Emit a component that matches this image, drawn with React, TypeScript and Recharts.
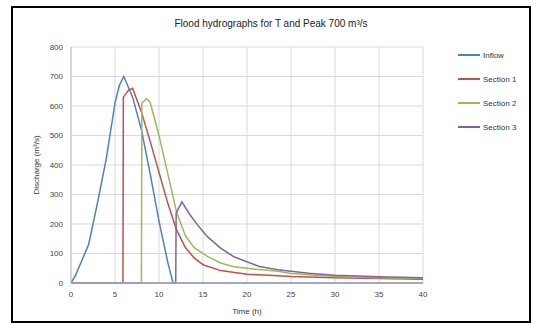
import React from 'react';
import { LineChart, Line, XAxis, YAxis, CartesianGrid, Legend } from 'recharts';

// Values (time in h, discharge in m³/s)
const xTicks = [0, 5, 10, 15, 20, 25, 30, 35, 40];
const yTicks = [0, 100, 200, 300, 400, 500, 600, 700, 800];

const inflowT = [0, 0.5, 1, 2, 3, 4, 5, 5.5, 6, 7, 8, 9, 10, 11, 11.6, 20, 30, 40];
const inflowQ = [0, 25, 60, 130, 270, 420, 610, 670, 700, 630, 520, 370, 210, 70, 0, 0, 0, 0];

const sec1T = [0, 5.9, 5.95, 6.5, 7, 8, 9, 10, 11, 12, 13, 14, 15, 17, 20, 25, 30, 35, 40];
const sec1Q = [0, 0, 630, 652, 660, 580, 480, 375, 270, 180, 120, 85, 62, 42, 30, 22, 18, 15, 13];

const sec2T = [0, 8, 8.05, 8.6, 9, 10, 11, 12, 13, 14, 15.5, 17, 18.5, 21, 23.5, 25, 30, 35, 40];
const sec2Q = [0, 0, 610, 625, 612, 500, 370, 240, 160, 120, 90, 68, 55, 47, 40, 32, 22, 18, 15];

const sec3T = [0, 11.9, 11.95, 12.6, 13.5, 14.5, 15.5, 17, 18.5, 21.4, 23.5, 27, 30, 35, 40];
const sec3Q = [0, 0, 237, 275, 232, 192, 157, 118, 89, 56, 45, 33, 26, 21, 18];

const series = [
  { name: 'Inflow', color: '#4F81BD', t: inflowT, q: inflowQ },
  { name: 'Section 1', color: '#C0504D', t: sec1T, q: sec1Q },
  { name: 'Section 2', color: '#9BBB59', t: sec2T, q: sec2Q },
  { name: 'Section 3', color: '#8064A2', t: sec3T, q: sec3Q },
];

const toPoints = (t: number[], q: number[]) => t.map((x, i) => ({ t: x, q: q[i] }));

const font = '"Liberation Sans", Arial, sans-serif';

const LegendBox = () => (
  <div style={{ fontFamily: font, fontSize: 8, color: '#333' }}>
    {series.map((s) => (
      <div key={s.name} style={{ display: 'flex', alignItems: 'center', justifyContent: 'flex-end', height: 24 }}>
        <span style={{ display: 'inline-block', width: 22, height: 2, background: s.color, marginRight: 3 }} />
        <span style={{ width: 40 }}>{s.name}</span>
      </div>
    ))}
  </div>
);

export default function App() {
  return (
    <div
      style={{
        position: 'fixed',
        left: 11,
        top: 6,
        width: 520,
        height: 317,
        border: '2px solid #000',
        boxSizing: 'border-box',
        background: '#fff',
      }}
    >
      <div
        style={{
          position: 'absolute',
          top: 10,
          left: 0,
          width: '100%',
          textAlign: 'center',
          fontFamily: font,
          fontSize: 10,
          color: '#222',
        }}
      >
        Flood hydrographs for T and Peak 700 m³/s
      </div>
      <LineChart width={516} height={313} margin={{ top: 39, right: 6, bottom: 14, left: 18 }}>
        <CartesianGrid stroke="#d9d9d9" />
        <XAxis
          type="number"
          dataKey="t"
          domain={[0, 40]}
          ticks={xTicks}
          allowDuplicatedCategory={false}
          tick={{ fontSize: 8, fill: '#444', fontFamily: font }}
          tickLine={false}
          axisLine={{ stroke: '#bfbfbf' }}
          height={24}
          label={{ value: 'Time (h)', position: 'insideBottom', offset: -7, fontSize: 8, fill: '#333', fontFamily: font }}
        />
        <YAxis
          type="number"
          domain={[0, 800]}
          ticks={yTicks}
          tick={{ fontSize: 8, fill: '#444', fontFamily: font }}
          tickLine={false}
          axisLine={{ stroke: '#bfbfbf' }}
          width={40}
          label={{
            value: 'Discharge (m³/s)',
            angle: -90,
            position: 'insideLeft',
            offset: 5,
            fontSize: 8,
            fill: '#333',
            fontFamily: font,
            style: { textAnchor: 'middle' },
          }}
        />
        <Legend
          layout="vertical"
          verticalAlign="top"
          align="right"
          content={() => <LegendBox />}
          wrapperStyle={{ top: 35, right: 6, width: 100 }}
        />
        {series.map((s) => (
          <Line
            key={s.name}
            name={s.name}
            data={toPoints(s.t, s.q)}
            dataKey="q"
            type="linear"
            stroke={s.color}
            strokeWidth={1.5}
            dot={false}
            isAnimationActive={false}
          />
        ))}
      </LineChart>
    </div>
  );
}
